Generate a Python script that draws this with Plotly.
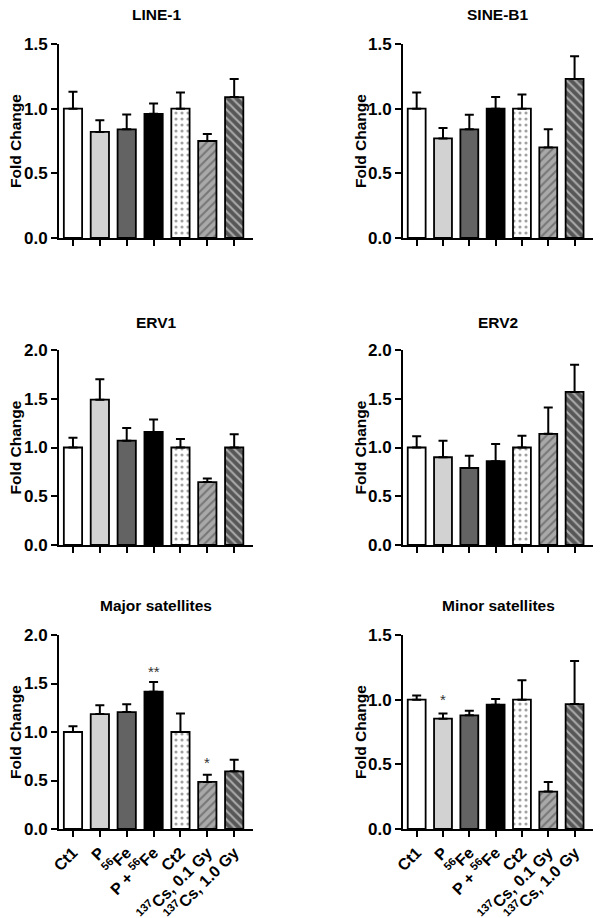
import plotly.graph_objects as go

categories = ["Ct1", "P", "<sup>56</sup>Fe", "P + <sup>56</sup>Fe", "Ct2",
              "<sup>137</sup>Cs, 0.1 Gy", "<sup>137</sup>Cs, 1.0 Gy"]

titles = ["LINE-1", "SINE-B1", "ERV1", "ERV2", "Major satellites", "Minor satellites"]

line1_mean = [1.00, 0.82, 0.84, 0.96, 1.00, 0.75, 1.09]
line1_err = [0.13, 0.09, 0.115, 0.08, 0.125, 0.055, 0.14]

sineb1_mean = [1.00, 0.77, 0.84, 1.00, 1.00, 0.70, 1.23]
sineb1_err = [0.125, 0.08, 0.113, 0.09, 0.11, 0.14, 0.175]

erv1_mean = [1.00, 1.49, 1.07, 1.16, 1.00, 0.645, 1.00]
erv1_err = [0.10, 0.21, 0.13, 0.127, 0.087, 0.038, 0.135]

erv2_mean = [1.00, 0.90, 0.79, 0.86, 1.00, 1.14, 1.57]
erv2_err = [0.115, 0.17, 0.125, 0.175, 0.12, 0.27, 0.28]

major_mean = [1.00, 1.185, 1.205, 1.415, 1.00, 0.485, 0.595]
major_err = [0.06, 0.09, 0.08, 0.10, 0.19, 0.075, 0.12]

minor_mean = [1.00, 0.853, 0.879, 0.961, 1.00, 0.289, 0.966]
minor_err = [0.033, 0.04, 0.036, 0.045, 0.15, 0.075, 0.333]

y_max = [1.5, 1.5, 2.0, 2.0, 2.0, 1.5]

# significance marks: (panel index, category index, y position, text)
stars_panel = [4, 4, 5]
stars_cat = [3, 5, 1]
stars_y = [1.58, 0.64, 0.965]
stars_text = ["**", "*", "*"]

means = [line1_mean, sineb1_mean, erv1_mean, erv2_mean, major_mean, minor_mean]
errs = [line1_err, sineb1_err, erv1_err, erv2_err, major_err, minor_err]

# page offset of the figure (default body margin) and figure size
OFF = 8
W, H = 602 - OFF, 918 - OFF
col_px = [(59, 253), (403, 593)]
row_px = [(44, 238), (350, 545), (635, 829)]
title_px = [15, 322, 605]
ytitle_px = [15, 360]

def fx(p):
    return (p - OFF) / W

def fy(p):
    return 1 - (p - OFF) / H

bar_colors = ["#ffffff", "#d2d2d2", "#636363", "#000000", "#ffffff", "#a9a9a9", "#575757"]
pat_shapes = ["", "", "", "", ".", "/", "\\"]
pat_fg = ["#000000", "#000000", "#000000", "#000000", "#333333", "#3a3a3a", "#1a1a1a"]
pat_size = [6, 6, 6, 6, 6, 6, 6]
pat_sol = [0.2, 0.2, 0.2, 0.2, 0.22, 0.35, 0.35]

FONT = "Liberation Sans, Arial, sans-serif"

fig = go.Figure()
layout = {}
annotations = []
xs = list(range(len(categories)))

for i in range(6):
    r, c = divmod(i, 2)
    ax = "" if i == 0 else str(i + 1)
    fig.add_trace(go.Bar(
        x=xs, y=means[i],
        xaxis="x" + ax, yaxis="y" + ax,
        width=0.68,
        marker=dict(
            color=bar_colors,
            line=dict(color="black", width=1.8),
            pattern=dict(shape=pat_shapes, fgcolor=pat_fg,
                         size=pat_size, solidity=pat_sol, fillmode="overlay"),
        ),
        error_y=dict(type="data", array=errs[i], arrayminus=[0] * 7, symmetric=False,
                     color="black", thickness=2, width=4.5),
        showlegend=False,
    ))
    x0, x1 = col_px[c]
    y0, y1 = row_px[r]
    bottom = (r == 2)
    layout["xaxis" + ax] = dict(
        domain=[fx(x0), fx(x1)], anchor="y" + ax,
        range=[-0.52, 6.7], showgrid=False, zeroline=False,
        showline=True, linecolor="black", linewidth=2,
        ticks="outside", ticklen=6, tickwidth=2, tickcolor="black",
        tickvals=xs, ticktext=categories if bottom else [""] * 7,
        tickangle=-45,
        tickfont=dict(family=FONT, size=16, color="black", weight="bold"),
        fixedrange=True, automargin=False,
    )
    step = 0.5
    nt = int(round(y_max[i] / step))
    tv = [k * step for k in range(nt + 1)]
    layout["yaxis" + ax] = dict(
        domain=[fy(y1), fy(y0)], anchor="x" + ax,
        range=[0, y_max[i]], showgrid=False, zeroline=False,
        showline=True, linecolor="black", linewidth=2,
        ticks="outside", ticklen=6, tickwidth=2, tickcolor="black",
        tickvals=tv, ticktext=["%.1f" % v for v in tv],
        tickfont=dict(family=FONT, size=17, color="black", weight="bold"),
        fixedrange=True, automargin=False,
    )
    annotations.append(dict(
        x=fx((x0 + x1) / 2), y=fy(title_px[r]), xref="paper", yref="paper",
        text="<b>%s</b>" % titles[i], showarrow=False, xanchor="center", yanchor="middle",
        font=dict(family=FONT, size=15.5, color="black"),
    ))
    annotations.append(dict(
        x=fx(ytitle_px[c]), y=fy((y0 + y1) / 2), xref="paper", yref="paper",
        text="<b>Fold Change</b>", showarrow=False, textangle=-90,
        xanchor="center", yanchor="middle",
        font=dict(family=FONT, size=15.5, color="black"),
    ))

for p, ci, yv, t in zip(stars_panel, stars_cat, stars_y, stars_text):
    ax = "" if p == 0 else str(p + 1)
    annotations.append(dict(
        x=ci, y=yv, xref="x" + ax, yref="y" + ax, text=t, showarrow=False,
        xanchor="center", yanchor="bottom", yshift=-6,
        font=dict(family=FONT, size=15, color="#333333"),
    ))

fig.update_layout(
    width=W, height=H,
    margin=dict(l=0, r=0, t=0, b=0, pad=0, autoexpand=False),
    paper_bgcolor="white", plot_bgcolor="white",
    bargap=0.3,
    annotations=annotations,
    **layout,
)

fig.write_html("out.html")
